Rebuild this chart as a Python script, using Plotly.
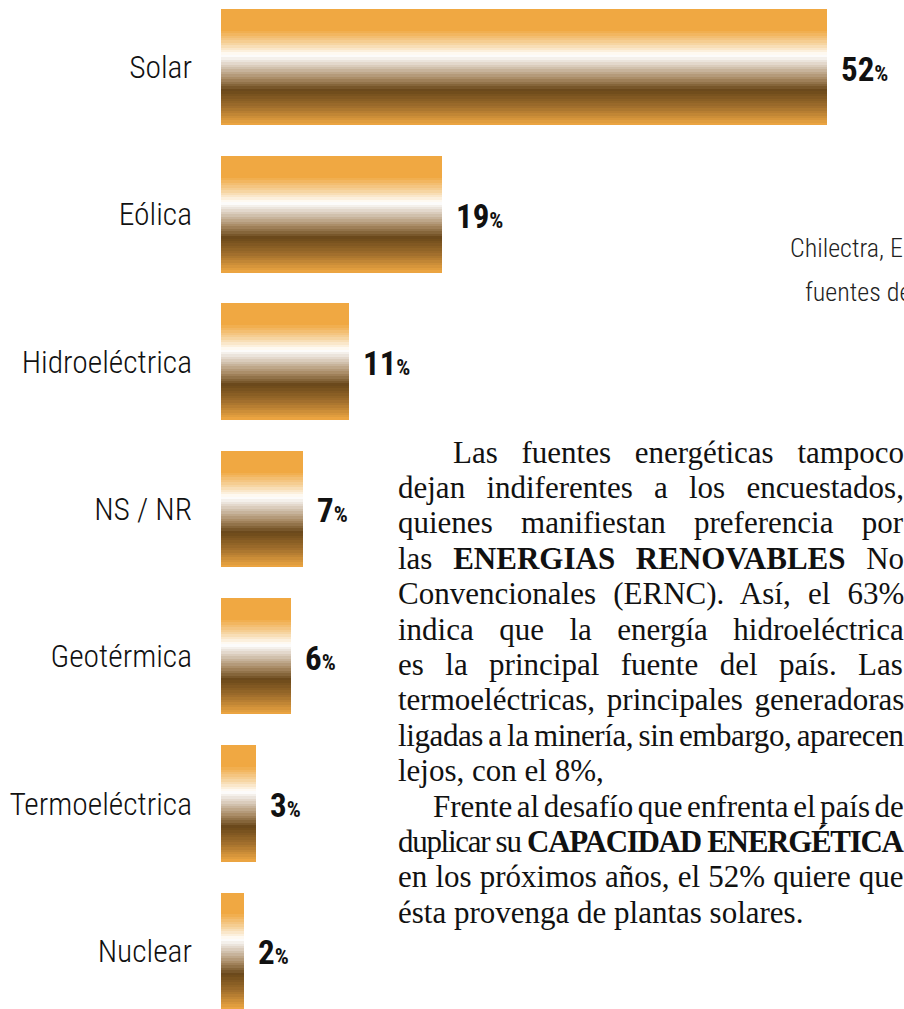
import plotly.graph_objects as go

categories = ["Solar", "Eólica", "Hidroeléctrica", "NS / NR", "Geotérmica", "Termoeléctrica", "Nuclear"]
values = [52, 19, 11, 7, 6, 3, 2]
value_labels = ["52", "19", "11", "7", "6", "3", "2"]

side_lines = ["Chilectra, E", "fuentes de"]
body_lines = [
    "Las fuentes energéticas tampoco",
    "dejan indiferentes a los encuestados,",
    "quienes manifiestan preferencia por",
    "las <b>ENERGIAS RENOVABLES</b> No",
    "Convencionales (ERNC). Así, el 63%",
    "indica que la energía hidroeléctrica",
    "es la principal fuente del país. Las",
    "termoeléctricas, principales generadoras",
    "ligadas a la minería, sin embargo, aparecen",
    "lejos, con el 8%,",
    "Frente al desafío que enfrenta el país de",
    "duplicar su <b>CAPACIDAD ENERGÉTICA</b>",
    "en los próximos años, el 52% quiere que",
    "ésta provenga de plantas solares.",
]
# typographic settings for the justified column (indent px, word spacing px, letter spacing px)
body_indent = [55, 0, 0, 0, 0, 0, 0, 0, 0, 0, 35, 0, 0, 0]
body_wordsp = [16, 13.5, 20.6, 13, 9.5, 17.7, 13.7, 4, -2, 0, -3.2, 0, 0.4, 0]
body_letsp = [0, 0, 0, 0, 0, 0, 0, 0, -0.4, 0, 0, -1.3, 0, 0]

# vertical gradient of the bars (top -> bottom)
grad_stops = [
    (0.00, (240, 168, 66)),
    (0.18, (240, 168, 66)),
    (0.30, (246, 212, 160)),
    (0.40, (255, 255, 255)),
    (0.48, (222, 210, 196)),
    (0.60, (168, 138, 100)),
    (0.70, (106, 72, 26)),
    (0.84, (160, 110, 44)),
    (1.00, (240, 168, 66)),
]


def grad_color(t):
    for (t0, c0), (t1, c1) in zip(grad_stops[:-1], grad_stops[1:]):
        if t0 <= t <= t1:
            f = 0 if t1 == t0 else (t - t0) / (t1 - t0)
            c = [round(a + (b - a) * f) for a, b in zip(c0, c1)]
            return "rgb(%d,%d,%d)" % tuple(c)
    return "rgb(%d,%d,%d)" % grad_stops[-1][1]


W = 0.79
N = 48
step = W / N

fig = go.Figure()
for i in range(N):
    t = (i + 0.5) / N
    fig.add_trace(go.Bar(
        x=values, y=categories, orientation="h",
        width=step * 1.6 if i < N - 1 else step,
        offset=-W / 2 + i * step,
        marker=dict(color=grad_color(t), line=dict(width=0)),
        hoverinfo="skip", showlegend=False,
    ))

SANS = "Roboto Condensed, Roboto, DejaVu Sans Condensed, sans-serif"
PX = 11.65   # pixels per percentage unit
FIG_W, FIG_H = 904, 1009
LEFT = 221

for cat, v, lab in zip(categories, values, value_labels):
    fig.add_annotation(
        x=v, y=cat, xref="x", yref="y", xanchor="left", yanchor="middle",
        xshift=12, yshift=-2, showarrow=False,
        text="<b>%s<span style='font-size:22px'>%%</span></b>" % lab,
        font=dict(family=SANS, size=33, color="#111"),
    )


def ypaper(py):
    return 1 - py / FIG_H


side_pos = [(788, 248), (803, 292)]
for txt, (px, py) in zip(side_lines, side_pos):
    fig.add_annotation(
        x=(px - LEFT) / PX, y=ypaper(py), xref="x", yref="paper",
        xanchor="left", yanchor="middle", showarrow=False, text=txt,
        font=dict(family=SANS, size=26, color="#222", weight=300),
    )

for i, txt in enumerate(body_lines):
    py = 452 + 35.4 * i
    style = "word-spacing:%.1fpx;letter-spacing:%.1fpx" % (body_wordsp[i], body_letsp[i])
    fig.add_annotation(
        x=(396 + body_indent[i] - LEFT) / PX, y=ypaper(py), xref="x", yref="paper",
        xanchor="left", yanchor="middle", showarrow=False,
        text="<span style='%s'>%s</span>" % (style, txt),
        font=dict(family="Liberation Serif, Times New Roman, serif", size=31, color="#111"),
    )

fig.update_layout(
    width=FIG_W, height=FIG_H,
    margin=dict(l=LEFT, r=0, t=0, b=0),
    paper_bgcolor="white", plot_bgcolor="white",
    barmode="overlay", bargap=0,
    xaxis=dict(range=[0, (FIG_W - LEFT) / PX], visible=False, showgrid=False, zeroline=False),
    yaxis=dict(
        type="category", categoryorder="array", categoryarray=categories,
        range=[6.395, -0.455], showgrid=False, zeroline=False, showline=False,
        ticks="", ticklabelstandoff=28,
        tickfont=dict(family=SANS, size=31.5, color="#111", weight=300),
    ),
)

fig.write_html("out.html", config={"displayModeBar": False},
               post_script="document.body.style.margin='0px';")
